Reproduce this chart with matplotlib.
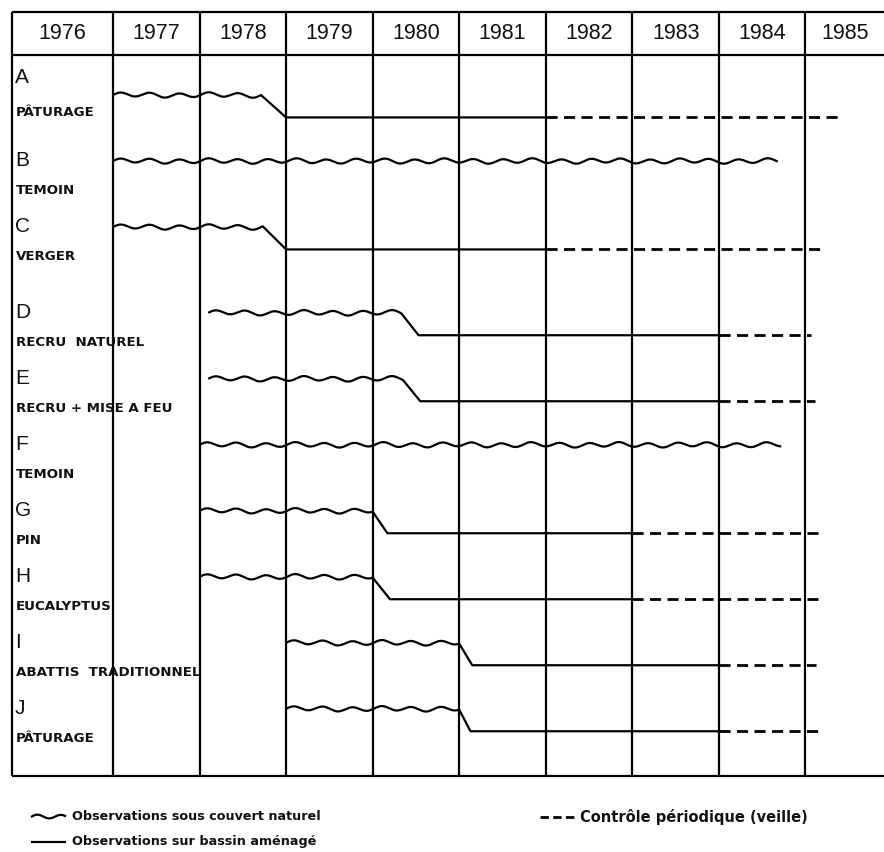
import numpy as np
import matplotlib.pyplot as plt

# header years (first column holds the plot labels)
years = [1976, 1977, 1978, 1979, 1980, 1981, 1982, 1983, 1984, 1985]

letters = ["A", "B", "C", "D", "E", "F", "G", "H", "I", "J"]
names = ["PÂTURAGE", "TEMOIN", "VERGER", "RECRU  NATUREL", "RECRU + MISE A FEU",
         "TEMOIN", "PIN", "EUCALYPTUS", "ABATTIS  TRADITIONNEL", "PÂTURAGE"]
row_pos = [0, 1, 2, 3.3, 4.3, 5.3, 6.3, 7.3, 8.3, 9.3]

# phases in years: natural cover, managed basin, periodic control
wavy_start = [1977.0, 1977.0, 1977.0, 1978.1, 1978.1, 1978.0, 1978.0, 1978.0, 1979.0, 1979.0]
wavy_end = [1978.71, 1984.68, 1978.73, 1980.33, 1980.35, 1984.72, 1980.0, 1980.0, 1981.0, 1981.0]
solid_start = [1979.0, None, 1979.0, 1980.53, 1980.55, None, 1980.17, 1980.2, 1981.15, 1981.13]
solid_end = [1982.0, None, 1982.0, 1984.0, 1984.0, None, 1983.0, 1983.0, 1984.0, 1984.0]
dashed_end = [1985.4, None, 1985.2, 1985.06, 1985.11, None, 1985.15, 1985.15, 1985.12, 1985.15]

legend_wavy = "Observations sous couvert naturel"
legend_solid = "Observations sur bassin aménagé"
legend_dashed = "Contrôle périodique (veille)"

W, H = 884, 852
X0, XS = 113, 86.56   # pixel of the 1977 line, pixels per year
Y0, YS = 95, 66       # pixel of row A, pixels per row unit
DROP = 0.34
AMP, PERIOD = 0.032, 0.34


def px_x(p):
    return 1977 + (p - X0) / XS


def px_y(p):
    return (p - Y0) / YS


def wave(x0, x1, y, amp=AMP, period=PERIOD):
    xs = np.linspace(x0, x1, int((x1 - x0) * 300) + 2)
    ys = y - amp * np.sin(2 * np.pi * (xs - x0) / period) \
        - 0.3 * amp * np.sin(2 * np.pi * (xs - x0) / (period * 2.7))
    return xs, ys


fig = plt.figure(figsize=(W / 100, H / 100), dpi=100)
ax = fig.add_axes([0, 0, 1, 1])
ax.set_xlim(px_x(0), px_x(W))
ax.set_ylim(px_y(H), px_y(0))
ax.axis("off")

left, right = px_x(12), px_x(W)
top, head, bottom = px_y(12), px_y(55), px_y(776)
grid_kw = dict(color="black", lw=1.6)
ax.hlines([top, head, bottom], left, right, **grid_kw)
ax.vlines([left] + years[1:], top, bottom, **grid_kw)

# header
for i, yr in enumerate(years):
    if i == 0:
        xc = (left + years[1]) / 2
    elif i == len(years) - 1:
        xc = (yr + right) / 2
    else:
        xc = yr + 0.5
    ax.text(xc, (top + head) / 2, str(yr), ha="center", va="center",
            fontsize=15.5, family="Liberation Sans", color="#111111")

# rows
line_kw = dict(color="black", lw=1.6, solid_capstyle="butt")
for i, r in enumerate(row_pos):
    letter_y = r - 0.26 if i == 0 else r
    name_y = r + 0.26 if i == 0 else r + 0.45
    ax.text(px_x(15), letter_y, letters[i], ha="left", va="center",
            fontsize=15, family="Liberation Sans", color="#111111")
    ax.text(px_x(16), name_y, names[i], ha="left", va="center",
            fontsize=9.6, fontweight="bold", family="DejaVu Sans", color="#111111")

    xs, ys = wave(wavy_start[i], wavy_end[i], r)
    if solid_start[i] is not None:
        xs = np.append(xs, [solid_start[i], solid_end[i]])
        ys = np.append(ys, [r + DROP, r + DROP])
        ax.plot([solid_end[i], dashed_end[i]], [r + DROP, r + DROP],
                color="black", lw=2.0, dashes=(4, 2.3))
    ax.plot(xs, ys, **line_kw)

# legend under the table
ly1, ly2 = px_y(817), px_y(842)
xs, ys = wave(px_x(31), px_x(66), ly1, amp=0.03, period=0.28)
ax.plot(xs, ys, **line_kw)
ax.text(px_x(72), ly1, legend_wavy, ha="left", va="center", fontsize=9.2,
        fontweight="bold", family="DejaVu Sans", color="#111111")
ax.plot([px_x(31), px_x(66)], [ly2, ly2], **line_kw)
ax.text(px_x(72), ly2, legend_solid, ha="left", va="center", fontsize=9.2,
        fontweight="bold", family="DejaVu Sans", color="#111111")
ax.plot([px_x(540), px_x(574)], [ly1, ly1], color="black", lw=2.0, dashes=(3, 1.6))
ax.text(px_x(580), ly1, legend_dashed, ha="left", va="center", fontsize=10.5,
        fontweight="bold", family="DejaVu Sans", color="#111111")

fig.savefig("out.png", dpi=100)
